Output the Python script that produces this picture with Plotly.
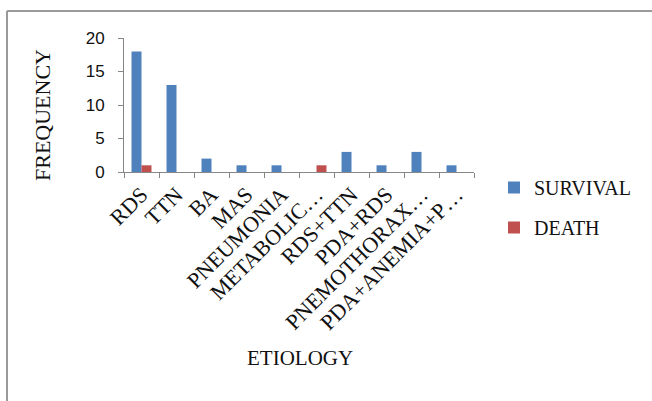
import plotly.graph_objects as go

categories = ["RDS", "TTN", "BA", "MAS", "PNEUMONIA", "METABOLIC\u2026", "RDS+TTN",
              "PDA+RDS", "PNEMOTHORAX\u2026", "PDA+ANEMIA+P\u2026"]
survival = [18, 13, 2, 1, 1, 0, 3, 1, 3, 1]
death = [1, 0, 0, 0, 0, 1, 0, 0, 0, 0]

SERIF = "Liberation Serif"
SANS = "Liberation Sans"
TXT = "#111111"

fig = go.Figure()
fig.add_trace(go.Bar(x=categories, y=survival, name="SURVIVAL",
                     marker=dict(color="#4F81BD", line=dict(width=0)),
                     legendgroup="a"))
fig.add_trace(go.Bar(x=categories, y=death, name="DEATH",
                     marker=dict(color="#C0504D", line=dict(width=0)),
                     legendgroup="b"))

L, R, T, B = 124, 178, 38, 229
W, H = 652, 401
pw, ph = W - L - R, H - T - B

def px(x):
    return (x - L) / pw

def py(y):
    return (H - B - y) / ph

fig.update_layout(
    width=W, height=H,
    margin=dict(l=L, r=R, t=T, b=B, pad=0),
    paper_bgcolor="white", plot_bgcolor="white",
    barmode="group", bargap=0.43, bargroupgap=0,
    showlegend=True,
    legend=dict(x=px(494), y=py(168), xanchor="left", yanchor="top",
                font=dict(family=SERIF, size=20, color=TXT),
                tracegroupgap=11, itemwidth=30, bgcolor="rgba(0,0,0,0)"),
    xaxis=dict(showline=True, linecolor="#868686", linewidth=1,
               ticks="outside", ticklen=5, tickcolor="#868686",
               tickson="boundaries", tickangle=-45,
               tickfont=dict(family=SERIF, size=22, color=TXT),
               showgrid=False, zeroline=False),
    yaxis=dict(range=[0, 20], dtick=5, showline=True, linecolor="#868686",
               linewidth=1, ticks="outside", ticklen=5, tickcolor="#868686",
               tickfont=dict(family=SANS, size=17, color=TXT),
               ticklabelstandoff=10,
               showgrid=False, zeroline=False),
    annotations=[
        dict(text="ETIOLOGY", x=px(300), y=py(358), xref="paper", yref="paper",
             showarrow=False, font=dict(family=SERIF, size=21, color=TXT),
             xanchor="center", yanchor="middle"),
        dict(text="FREQUENCY", x=px(42), y=py(115), xref="paper", yref="paper",
             showarrow=False, textangle=-90,
             font=dict(family=SERIF, size=22, color=TXT),
             xanchor="center", yanchor="middle"),
    ],
    shapes=[
        dict(type="line", xref="paper", yref="paper",
             x0=px(7), y0=py(H + 2), x1=px(7), y1=py(11),
             line=dict(color="#9a9a9a", width=2)),
        dict(type="line", xref="paper", yref="paper",
             x0=px(7), y0=py(11), x1=px(W + 2), y1=py(11),
             line=dict(color="#9a9a9a", width=2)),
    ],
)

fig.write_html("out.html")
